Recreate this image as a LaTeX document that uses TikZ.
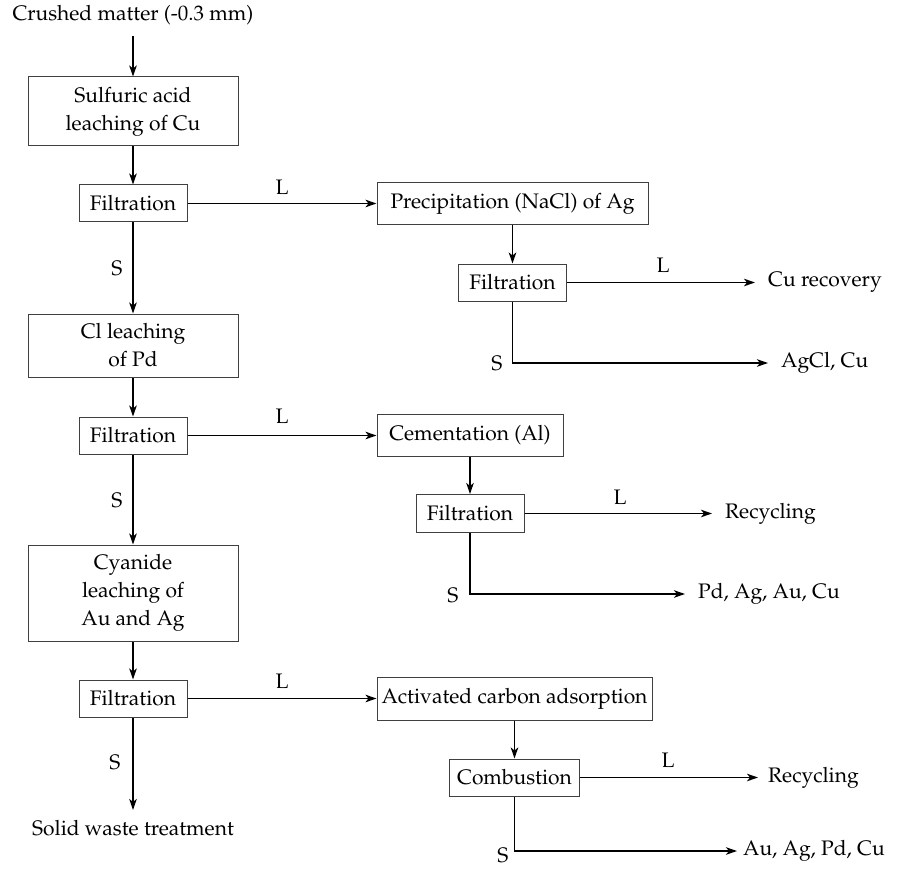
\documentclass[tikz,border=0pt]{standalone}
\usepackage[T1]{fontenc}
\usepackage{mathpazo}
\usetikzlibrary{arrows.meta}
\begin{document}
\begin{tikzpicture}[x=1pt,y=-1pt,
  every node/.style={font=\fontsize{21}{28}\selectfont},
  procbox/.style={draw=black!75,line width=1pt,inner sep=0pt,align=center},
  outtext/.style={inner sep=0pt,anchor=west},
  lab/.style={inner sep=0pt},
  flow/.style={line width=1.6pt,-{Stealth[length=11pt,width=7.5pt,inset=3pt]}}]
\useasboundingbox (0,0) rectangle (914,872);
% nodes
\node[inner sep=0pt] (top) at (133,15) {Crushed matter (-0.3 mm)};
\node[procbox,minimum width=210,minimum height=69] (b1) at (133,111.5) {Sulfuric acid\\leaching of Cu};
\node[procbox,minimum width=108,minimum height=37] (f1) at (133,203.5) {Filtration};
\node[procbox,minimum width=271,minimum height=42] (p1) at (512.5,203.5) {Precipitation (NaCl) of Ag};
\node[procbox,minimum width=108,minimum height=37] (f2) at (512.5,282.5) {Filtration};
\node[outtext] (cu) at (768,282.5) {Cu recovery};
\node[outtext] (agcl) at (781,363) {AgCl, Cu};
\node[procbox,minimum width=210,minimum height=63] (b2) at (133,345.5) {Cl leaching\\of Pd};
\node[procbox,minimum width=108,minimum height=37] (f3) at (133,435.5) {Filtration};
\node[procbox,minimum width=186,minimum height=42] (c1) at (470,435.5) {Cementation (Al)};
\node[procbox,minimum width=108,minimum height=38] (f4) at (470,513.5) {Filtration};
\node[outtext] (rec1) at (725,513.5) {Recycling};
\node[outtext] (pd) at (698,594) {Pd, Ag, Au, Cu};
\node[procbox,minimum width=210,minimum height=96] (b3) at (133,593) {Cyanide\\leaching of\\Au and Ag};
\node[procbox,minimum width=108,minimum height=37] (f5) at (133,698.5) {Filtration};
\node[procbox,minimum width=275,minimum height=43] (a1) at (514.5,698.5) {Activated carbon adsorption};
\node[procbox,minimum width=130,minimum height=37] (f6) at (514.5,777.5) {Combustion};
\node[outtext] (rec2) at (768,777.5) {Recycling};
\node[outtext] (au) at (743,851) {Au, Ag, Pd, Cu};
\node[inner sep=0pt] (sw) at (133,828) {Solid waste treatment};
% labels
\node[lab] (l1) at (282,187) {L};
\node[lab] (s1) at (117,268) {S};
\node[lab] (l2) at (663,265) {L};
\node[lab] (s2) at (497,363) {S};
\node[lab] (l3) at (282,416) {L};
\node[lab] (s3) at (117,500) {S};
\node[lab] (l4) at (620,497) {L};
\node[lab] (s4) at (453,595) {S};
\node[lab] (l5) at (282,681) {L};
\node[lab] (s5) at (115,762) {S};
\node[lab] (l6) at (668,760) {L};
\node[lab] (s6) at (503,855) {S};
% connectors
\draw[flow,shorten <=11pt] (top) -- (b1);
\draw[flow] (b1) -- (f1);
\draw[flow] (f1) -- (p1);
\draw[flow] (f1) -- (b2);
\draw[flow] (p1.south -| f2.north) -- (f2.north);
\draw[flow,shorten >=13pt] (f2.east) -- (cu.west);
\draw[flow,shorten >=13pt] (f2.south) |- (agcl.west);
\draw[flow] (b2) -- (f3);
\draw[flow] (f3) -- (c1);
\draw[flow] (f3) -- (b3);
\draw[flow] (c1) -- (f4);
\draw[flow,shorten >=13pt] (f4.east) -- (rec1.west);
\draw[flow,shorten >=13pt] (f4.south) |- (pd.west);
\draw[flow] (b3) -- (f5);
\draw[flow] (f5) -- (a1);
\draw[flow,shorten >=10pt] (f5) -- (sw);
\draw[flow] (a1) -- (f6);
\draw[flow,shorten >=10pt] (f6.east) -- (rec2.west);
\draw[flow,shorten >=6pt] (f6.south) |- (au.west);
\end{tikzpicture}
\end{document}
